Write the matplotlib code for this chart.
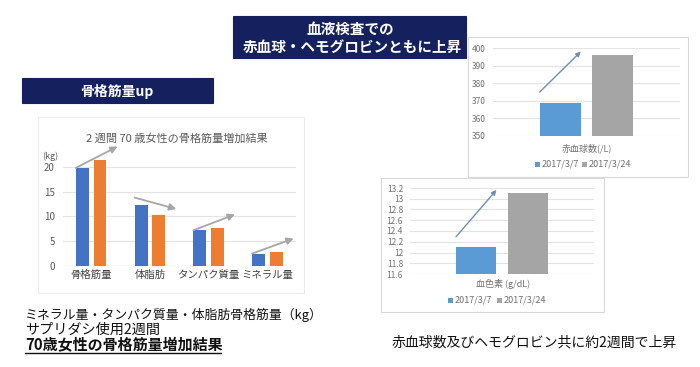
import numpy as np
import matplotlib.pyplot as plt
from matplotlib.patches import Rectangle

plt.rcParams['font.family'] = ['Noto Sans CJK JP', 'DejaVu Sans']

# left chart data
cats = ['骨格筋量', '体脂肪', 'タンパク質量', 'ミネラル量']
before = [19.8, 12.3, 7.2, 2.5]
after = [21.3, 10.2, 7.6, 2.75]
kg_ticks = [0, 5, 10, 15, 20]

# right charts data
dates = ['2017/3/7', '2017/3/24']
rbc = [369, 396]
rbc_ticks = [350, 360, 370, 380, 390, 400]
hb = [12.1, 13.1]
hb_ticks = [11.6, 11.8, 12.0, 12.2, 12.4, 12.6, 12.8, 13.0, 13.2]

W, H = 700, 367
NAVY = '#14215E'
fig = plt.figure(figsize=(W / 100, H / 100), dpi=100)


def rect(x0, y0, x1, y1):
    return [x0 / W, 1 - y1 / H, (x1 - x0) / W, (y1 - y0) / H]


def box(x0, y0, x1, y1, fc, ec, lw=0.8, z=0):
    fig.add_artist(Rectangle((x0 / W, 1 - y1 / H), (x1 - x0) / W, (y1 - y0) / H,
                             transform=fig.transFigure, fc=fc, ec=ec, lw=lw, zorder=z))


def ftext(x, y, s, **kw):
    return fig.text(x / W, 1 - y / H, s, **kw)


# panels and title boxes
box(38, 117, 304, 293, 'white', '#EBEBEB')
box(468, 37, 688, 177, 'white', '#D9D9D9')
box(381, 178, 604, 312, 'white', '#D9D9D9')
box(233, 16, 466, 58, NAVY, NAVY)
box(22, 78, 213, 103, NAVY, NAVY)

ftext(350, 29, '血液検査での', ha='center', va='center', color='white',
      fontsize=10.5, fontweight='bold')
ftext(352, 47, '赤血球・ヘモグロビンともに上昇', ha='center', va='center',
      color='white', fontsize=10.5, fontweight='bold')
ftext(117, 91, '骨格筋量up', ha='center', va='center', color='white',
      fontsize=10, fontweight='bold')

# left chart
ax = fig.add_axes(rect(63, 150, 296, 266))
x = np.arange(len(cats))
off, bw = 0.15, 0.22
ax.bar(x - off, before, bw, color='#4472C4', zorder=3)
ax.bar(x + off, after, bw, color='#ED7D31', zorder=3)
for i in range(len(cats)):
    y0 = before[i]
    y1 = after[i] + 2.8
    if after[i] < before[i]:
        y0 = before[i] + 1.5
        y1 = after[i] + 1.3
    ax.annotate('', xy=(x[i] + off + 0.3, y1), xytext=(x[i] - off - 0.11, y0),
                arrowprops=dict(arrowstyle='-|>', color='#A6A6A6', lw=1.3,
                                mutation_scale=10, shrinkA=0, shrinkB=0),
                annotation_clip=False, zorder=4)
ax.set_xlim(-0.48, 3.49)
ax.set_ylim(0, 23.4)
ax.set_yticks(kg_ticks)
ax.set_xticks(x)
ax.set_xticklabels(cats, fontsize=7.5, color='#404040')
ax.tick_params(axis='y', labelsize=7, colors='#595959', length=0, pad=6)
ax.tick_params(axis='x', length=0, pad=3)
ax.grid(axis='y', color='#E3E3E3', lw=0.8, zorder=0)
for s in ax.spines.values():
    s.set_visible(False)
ax.axhline(0, color='#D9D9D9', lw=0.8, zorder=1)
ftext(50, 156, '(kg)', ha='center', va='center', fontsize=6.5, color='#595959')
ftext(177, 138, '2 週間 70 歳女性の骨格筋量増加結果', ha='center', va='center',
      fontsize=8, color='#595959')


def small_chart(ax_rect, vals, ticks, fmt, label, lx, ly, legy, legx):
    a = fig.add_axes(rect(*ax_rect))
    a.bar([-0.28, 0.28], vals, 0.44, color=['#5B9BD5', '#A5A5A5'], zorder=3)
    a.set_xlim(-1, 1)
    a.set_ylim(ticks[0], ticks[-1])
    a.set_yticks(ticks)
    a.set_yticklabels([fmt(t) for t in ticks])
    a.set_xticks([])
    a.tick_params(axis='y', labelsize=6, colors='#707070', length=0, pad=5)
    a.grid(axis='y', color='#E3E3E3', lw=0.8, zorder=0)
    for s in a.spines.values():
        s.set_visible(False)
    span = ticks[-1] - ticks[0]
    a.annotate('', xy=(-0.06, vals[1] + span * 0.04), xytext=(-0.5, vals[0] + span * 0.12),
               arrowprops=dict(arrowstyle='-|>', color='#6F8FAF', lw=1.0,
                               mutation_scale=7, shrinkA=0, shrinkB=0),
               annotation_clip=False, zorder=4)
    ftext(lx, ly, label, ha='center', va='center', fontsize=6.5, color='#707070')
    for i, d in enumerate(dates):
        box(legx[i], legy - 2.5, legx[i] + 5, legy + 2.5, ['#5B9BD5', '#A5A5A5'][i],
            'none', lw=0, z=3)
        ftext(legx[i] + 7, legy, d, ha='left', va='center', fontsize=6.5, color='#707070')


small_chart((493, 48, 680, 136), rbc, rbc_ticks, lambda t: '%d' % t,
            '赤血球数(/L)', 587, 148, 164, [535, 582])
small_chart((410, 188, 594, 274), hb, hb_ticks, lambda t: '%g' % t,
            '血色素 (g/dL)', 503, 284, 300, [448, 497])

# captions
ftext(25, 315, 'ミネラル量・タンパク質量・体脂肪骨格筋量（kg）', ha='left', va='center',
      fontsize=9.3, color='#111111')
ftext(25, 330, 'サプリダシ使用2週間', ha='left', va='center', fontsize=10.2, color='#111111')
ftext(25, 345, '70歳女性の骨格筋量増加結果', ha='left', va='center',
      fontsize=10.8, fontweight='bold', color='#111111')
fig.add_artist(plt.Line2D([25 / W, 221 / W], [1 - 353 / H, 1 - 353 / H],
                          color='#111111', lw=1.0, transform=fig.transFigure))
ftext(534, 342, '赤血球数及びヘモグロビン共に約2週間で上昇', ha='center', va='center',
      fontsize=10, color='#111111')

fig.savefig('out.png', dpi=100)
